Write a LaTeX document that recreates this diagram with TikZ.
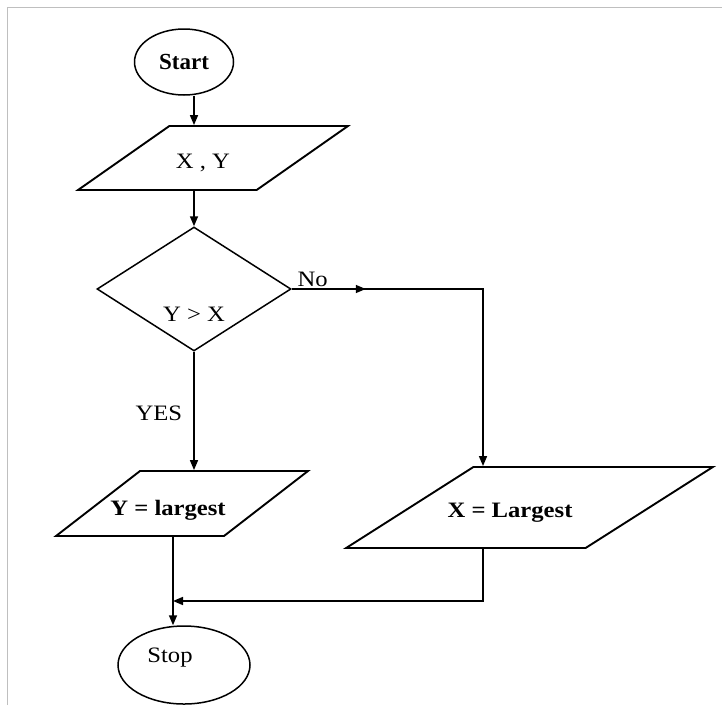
\documentclass[tikz,border=0pt]{standalone}
\usepackage{fontspec}
\setmainfont{Liberation Serif}
\newfontfamily\widefont{Liberation Serif}[FakeStretch=1.12]
\usetikzlibrary{shapes.geometric, arrows.meta, decorations.markings}
\begin{document}
\begin{tikzpicture}[x=1pt, y=-1pt,
  >={Triangle[length=10pt, width=8pt]},
  flow/.style={draw, line width=1.6pt, ->},
  terminal/.style={draw, ellipse, inner sep=2pt, line width=1.5pt},
  io/.style={draw, trapezium, trapezium stretches=true, inner sep=2pt, line width=1.9pt},
  decision/.style={draw, diamond, inner sep=2pt, line width=1.5pt},
  txt/.style={font=\widefont\fontsize{22}{24}\selectfont, inner sep=0pt},
  btxt/.style={font=\widefont\fontsize{22}{24}\selectfont\bfseries, inner sep=0pt},
  frame/.style={draw=black!25, line width=1.2pt}]

% canvas and thin frame
\useasboundingbox (0,0) rectangle (722,705);
\fill[white] (0,0) rectangle (722,705);
\draw[frame] (7.5,705) -- (7.5,7.5) -- (722,7.5);

% shapes
\node[terminal, font=\fontsize{23}{25}\selectfont\bfseries,
      minimum width=99pt, minimum height=66pt] (start) at (184,62) {Start};

\node[io, trapezium left angle=43.7, trapezium right angle=136.3,
      minimum width=270pt, minimum height=64pt,
      label={[txt, name=xytext, xshift=-10pt, yshift=-5pt]center:X , Y}] (xy) at (213,158) {};

\node[decision, minimum width=194pt, minimum height=124pt,
      label={[txt, name=dectext, yshift=-25pt]center:Y > X}] (dec) at (194,289) {};

\node[io, trapezium left angle=45, trapezium right angle=135,
      minimum width=252pt, minimum height=65pt,
      label={[btxt, name=ylgtext, xshift=-14pt, yshift=-7pt]center:Y = largest}] (ylg) at (182,503.5) {};

\node[io, trapezium left angle=41.4, trapezium right angle=138.6,
      minimum width=367pt, minimum height=81pt,
      label={[btxt, name=xlgtext, xshift=-19.5pt, yshift=-5.5pt]center:X = Largest}] (xlg) at (529.5,507.5) {};

\node[terminal, minimum width=132pt, minimum height=78pt,
      label={[txt, name=stoptext, xshift=-14pt, yshift=7pt]center:Stop}] (stop) at (184,665) {};

% routing columns and the merge point
\coordinate (colA) at (194,0);
\coordinate (colB) at (483,0);
\coordinate (colC) at (173,0);
\coordinate (join) at (173,601);

% connectors
\draw[flow] (start.south -| colA) -- (xy.north -| colA);
\draw[flow] (xy.south -| colA) -- (dec.north);
\draw[flow] (dec.south) -- node[txt, pos=0.52, left=11pt] (yes) {YES} (ylg.north -| dec.south);
\draw[flow, postaction={decorate},
      decoration={markings, mark=at position 74pt with {\arrow{>}}}]
  (dec.east) -- node[txt, pos=0, anchor=south west, xshift=5pt, yshift=1pt] (no) {No}
  (dec.east -| colB) -- (xlg.north -| colB);
\draw[flow] (xlg.south -| colB) -- (colB |- join) -- (join);
\draw[flow] (ylg.south -| colC) -- (stop.north -| colC);
\end{tikzpicture}
\end{document}
